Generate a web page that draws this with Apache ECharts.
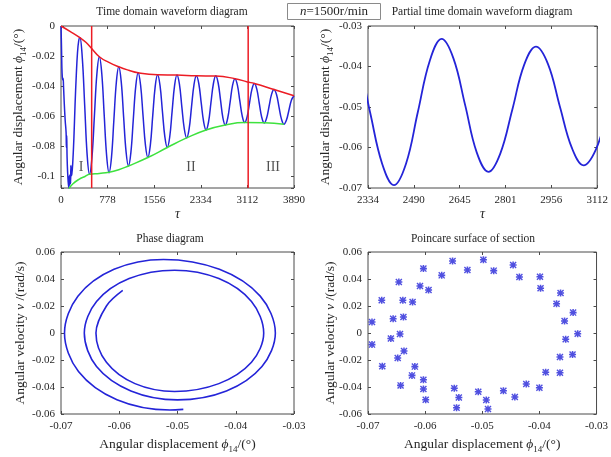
<!DOCTYPE html>
<html>
<head>
<meta charset="utf-8">
<script src="https://cdn.jsdelivr.net/npm/echarts@6/dist/echarts.min.js"></script>
<style>
  html, body { margin: 0; padding: 0; background: #fff; }
  #chart { width: 611px; height: 457px; }
</style>
</head>
<body>
<div id="chart"></div>
<script>
// ---------- time-domain waveform (phi_14 vs tau) ----------
const waveTau = [
  0, 5, 10, 15, 22, 30, 36, 42, 55, 70, 85, 90, 95, 98, 102, 110, 120, 130, 138, 145,
  152, 160, 165, 170, 180, 195, 215, 235, 255, 275, 295, 315,
  355, 396, 436, 476,
  517, 558, 599, 640,
  681, 721, 762, 802,
  843, 883, 924, 964,
  1005, 1045, 1086, 1126,
  1167, 1207, 1248, 1288,
  1329, 1369, 1410, 1450,
  1491, 1531, 1572, 1612,
  1653, 1693, 1734, 1774,
  1815, 1855, 1896, 1936,
  1977, 2017, 2058, 2098,
  2139, 2179, 2220, 2260,
  2301, 2341, 2382, 2422,
  2463, 2503, 2544, 2584,
  2624, 2664, 2703, 2743,
  2783, 2824, 2864, 2904,
  2945, 2985, 3026, 3066,
  3107, 3147, 3188, 3228,
  3269, 3310, 3351, 3392,
  3433, 3474, 3515, 3556,
  3598, 3639, 3681, 3722,
  3764, 3806, 3848, 3890
];
const wavePhi = [
  0, -0.008, -0.018, -0.028, -0.034, -0.036, -0.035, -0.040, -0.052, -0.063, -0.071, -0.081, -0.073, -0.079, -0.088, -0.097, -0.104, -0.108, -0.100, -0.106,
  -0.099, -0.105, -0.093, -0.100, -0.099, -0.092, -0.075, -0.052, -0.033, -0.018, -0.010, -0.0076,
  -0.0209, -0.0533, -0.0856, -0.0989,
  -0.0875, -0.0597, -0.0320, -0.0205,
  -0.0318, -0.0592, -0.0865, -0.0978,
  -0.0875, -0.0625, -0.0375, -0.0272,
  -0.0369, -0.0603, -0.0837, -0.0933,
  -0.0842, -0.0623, -0.0403, -0.0312,
  -0.0395, -0.0595, -0.0795, -0.0877,
  -0.0796, -0.0601, -0.0406, -0.0325,
  -0.0396, -0.0568, -0.0739, -0.0810,
  -0.0740, -0.0569, -0.0398, -0.0327,
  -0.0388, -0.0537, -0.0685, -0.0746,
  -0.0686, -0.0539, -0.0392, -0.0332,
  -0.0385, -0.0513, -0.0640, -0.0693,
  -0.0640, -0.0513, -0.0385, -0.0332,
  -0.0380, -0.0496, -0.0612, -0.0660,
  -0.0615, -0.0506, -0.0396, -0.0351,
  -0.0394, -0.0498, -0.0601, -0.0644,
  -0.0606, -0.0514, -0.0421, -0.0383,
  -0.0421, -0.0515, -0.0608, -0.0646,
  -0.0613, -0.0535, -0.0456, -0.0423,
  -0.0457, -0.0539, -0.0621, -0.0655,
  -0.0627, -0.0560, -0.0493, -0.0465
];

// upper (red) and lower (green) envelopes
const upperTau = [0, 150, 315, 420, 512, 640, 800, 964, 1130, 1288, 1612, 1936, 2260, 2584, 2904, 3112, 3228, 3556, 3890];
const upperPhi = [0, -0.0036, -0.0078, -0.0110, -0.0150, -0.0205, -0.0243, -0.0272, -0.0295, -0.0312, -0.0325, -0.0327, -0.0332, -0.0334, -0.0351, -0.0373, -0.0383, -0.0423, -0.0465];
const lowerTau = [130, 200, 300, 400, 476, 640, 802, 964, 1126, 1450, 1774, 2098, 2422, 2743, 3066, 3392, 3722];
const lowerPhi = [-0.1085, -0.1052, -0.1022, -0.1003, -0.0989, -0.0983, -0.0975, -0.0958, -0.0933, -0.0877, -0.0810, -0.0746, -0.0693, -0.0660, -0.0644, -0.0645, -0.0655];

// stage boundaries and stage names
const boundaryTau = [512, 3125];
const stageNames = ['I', 'II', 'III'];
const stageTau = [334, 2170, 3540];
const stagePhi = [-0.094, -0.094, -0.094];

// axis tick labels
const partialTauLabels = ['2334', '2490', '2645', '2801', '2956', '3112'];
const phaseVelLabels = ['-0.06', '-0.04', '-0.02', '0', '-0.02', '0.04', '0.06'];

// ---------- phase trajectory ----------
const phaseDisp = [
  -0.0490, -0.0513, -0.0604, -0.0670, -0.0694, -0.0671, -0.0609, -0.0524, -0.0428, -0.0358,
  -0.0332, -0.0355, -0.0416, -0.0500, -0.0580, -0.0639, -0.0660, -0.0639, -0.0583, -0.0505,
  -0.0429, -0.0373, -0.0352, -0.0373, -0.0429, -0.0505, -0.0573, -0.0622, -0.0640, -0.0622,
  -0.0594
];
const phaseVel = [
  -0.0566, -0.0570, -0.0494, -0.0285, 0.0000, 0.0273, 0.0472, 0.0545, 0.0472, 0.0273,
  0.0000, -0.0248, -0.0429, -0.0495, -0.0429, -0.0248, 0.0000, 0.0233, 0.0403, 0.0465,
  0.0403, 0.0233, 0.0000, -0.0217, -0.0375, -0.0433, -0.0375, -0.0217, 0.0000, 0.0200,
  0.0315
];

// ---------- Poincare section points ----------
const poincareDisp = [
  -0.0693, -0.0693, -0.0676, -0.0675, -0.0660, -0.0656, -0.0648, -0.0646, -0.0644, -0.0643,
  -0.0639, -0.0638, -0.0637, -0.0622, -0.0623, -0.0618, -0.0609, -0.0603, -0.0599, -0.0594,
  -0.0603, -0.0603, -0.0571, -0.0552, -0.0549, -0.0545, -0.0541, -0.0526, -0.0507, -0.0498,
  -0.0493, -0.0490, -0.0480, -0.0463, -0.0446, -0.0443, -0.0435, -0.0423, -0.0399, -0.0398,
  -0.0400, -0.0389, -0.0370, -0.0363, -0.0364, -0.0364, -0.0356, -0.0354, -0.0342, -0.0341,
  -0.0333
];
const poincareVel = [
  0.0081, -0.0086, 0.0242, -0.0247, -0.0040, 0.0106, -0.0185, 0.0378, -0.0007, -0.0388,
  0.0242, 0.0119, -0.0133, 0.0230, -0.0314, -0.0249, 0.0348, 0.0477, -0.0494, 0.0319,
  -0.0346, -0.0415, 0.0427, 0.0533, -0.0410, -0.0553, -0.0477, 0.0467, -0.0435, 0.0543,
  -0.0496, -0.0563, 0.0462, -0.0427, 0.0504, -0.0474, 0.0415, -0.0378, 0.0417, 0.0331,
  -0.0405, -0.0291, 0.0217, 0.0296, -0.0178, -0.0294, 0.0089, -0.0047, -0.0160, 0.0151,
  -0.0005
];

// ---------- styling ----------
const serif = '"Liberation Serif", "Times New Roman", serif';
const ink = '#262626';
const frame = '#4a4a4a';
const blue = '#2424d8';
const red = '#ec1c24';
const green = '#3ee23e';

const zip = (xs, ys) => xs.map((x, i) => [x, ys[i]]);
const fmt = v => { const r = Math.round(v * 100) / 100; return r === 0 ? '0' : String(r); };

const nameRich = {
  t: { fontFamily: serif, fontSize: 13.5, color: ink, lineHeight: 17, verticalAlign: 'top' },
  i: { fontFamily: serif, fontSize: 13.5, fontStyle: 'italic', color: ink, lineHeight: 17, verticalAlign: 'top' },
  s: { fontFamily: serif, fontSize: 9, color: ink, lineHeight: 8, verticalAlign: 'bottom' }
};
const dispName = '{t|Angular displacement }{i|ϕ}{s|14}{t|/(°)}';
const velName = '{t|Angular velocity }{i|ν}{t| /(rad/s)}';

const grids = [
  { left: 61, top: 26, width: 233, height: 162 },
  { left: 368, top: 26, width: 232, height: 162 },
  { left: 61, top: 252, width: 233, height: 162 },
  { left: 368, top: 252, width: 232, height: 162 }
].map(g => Object.assign(g, { show: true, borderColor: frame, borderWidth: 1, backgroundColor: 'transparent' }));

function axis(gridIndex, position, range, extra) {
  const main = position === 'bottom' || position === 'left';
  return Object.assign({
    type: 'value', gridIndex, position,
    min: range[0], max: range[1],
    axisLine: { show: false, onZero: false },
    axisTick: { show: true, inside: true, length: 3, lineStyle: { color: frame, width: 1 } },
    splitLine: { show: false },
    axisLabel: {
      show: main, color: ink, fontFamily: serif, fontSize: 11,
      margin: (position === 'left') ? 6 : 7, formatter: fmt,
      showMinLabel: true, showMaxLabel: true
    },
    nameMoveOverlap: false
  }, extra || {});
}

const xAxes = [];
const yAxes = [];
// grid 0: full waveform
xAxes.push(axis(0, 'bottom', [0, 3890], {
  interval: 778, axisLabel: { color: ink, fontFamily: serif, fontSize: 11, margin: 7, formatter: v => String(Math.round(v)) },
  name: 'τ', nameLocation: 'middle', nameGap: 19,
  nameTextStyle: { fontFamily: serif, fontSize: 14, fontStyle: 'italic', color: ink }
}));
xAxes.push(axis(0, 'top', [0, 3890], { interval: 778 }));
yAxes.push(axis(0, 'left', [-0.108, 0], {
  splitNumber: 5,
  axisLabel: {
    color: ink, fontFamily: serif, fontSize: 11, margin: 6,
    formatter: v => Math.abs(v / 0.02 - Math.round(v / 0.02)) > 1e-6 ? '' : fmt(v)
  },
  name: dispName, nameLocation: 'middle', nameGap: 33,
  nameTextStyle: { rich: nameRich }
}));
yAxes.push(axis(0, 'right', [-0.108, 0], { splitNumber: 5 }));

// grid 1: partial waveform
xAxes.push(axis(1, 'bottom', [2334, 3112], {
  interval: 155.6,
  axisLabel: { color: ink, fontFamily: serif, fontSize: 11, margin: 7,
    formatter: v => partialTauLabels[Math.round((v - 2334) / 155.6)] || '' },
  name: 'τ', nameLocation: 'middle', nameGap: 19,
  nameTextStyle: { fontFamily: serif, fontSize: 14, fontStyle: 'italic', color: ink }
}));
xAxes.push(axis(1, 'top', [2334, 3112], { interval: 155.6 }));
yAxes.push(axis(1, 'left', [-0.07, -0.03], {
  interval: 0.01,
  name: dispName, nameLocation: 'middle', nameGap: 33,
  nameTextStyle: { rich: nameRich }
}));
yAxes.push(axis(1, 'right', [-0.07, -0.03], { interval: 0.01 }));

// grid 2: phase diagram
xAxes.push(axis(2, 'bottom', [-0.07, -0.03], {
  interval: 0.01,
  name: dispName, nameLocation: 'middle', nameGap: 23,
  nameTextStyle: { rich: nameRich }
}));
xAxes.push(axis(2, 'top', [-0.07, -0.03], { interval: 0.01 }));
yAxes.push(axis(2, 'left', [-0.06, 0.06], {
  interval: 0.02,
  axisLabel: { color: ink, fontFamily: serif, fontSize: 11, margin: 6,
    formatter: v => phaseVelLabels[Math.round((v + 0.06) / 0.02)] || '' },
  name: velName, nameLocation: 'middle', nameGap: 31,
  nameTextStyle: { rich: nameRich }
}));
yAxes.push(axis(2, 'right', [-0.06, 0.06], { interval: 0.02 }));

// grid 3: Poincare section
xAxes.push(axis(3, 'bottom', [-0.07, -0.03], {
  interval: 0.01,
  name: dispName, nameLocation: 'middle', nameGap: 23,
  nameTextStyle: { rich: nameRich }
}));
xAxes.push(axis(3, 'top', [-0.07, -0.03], { interval: 0.01 }));
yAxes.push(axis(3, 'left', [-0.06, 0.06], {
  interval: 0.02,
  name: velName, nameLocation: 'middle', nameGap: 28,
  nameTextStyle: { rich: nameRich }
}));
yAxes.push(axis(3, 'right', [-0.06, 0.06], { interval: 0.02 }));

// asterisk marker: plus and cross bars of equal winding
const asterisk = 'path://M3.9 0L6.1 0L6.1 10L3.9 10Z M0 3.9L10 3.9L10 6.1L0 6.1Z M1.4 0L10 8.6L8.6 10L0 1.4Z M8.6 0L10 1.4L1.4 10L0 8.6Z';

const lineBase = { type: 'line', showSymbol: false, symbol: 'none', clip: true, animation: false, silent: true };

const series = [
  Object.assign({}, lineBase, {
    xAxisIndex: 0, yAxisIndex: 0, smooth: 0.4,
    data: zip(waveTau, wavePhi), lineStyle: { color: blue, width: 1.5 }, z: 2
  }),
  Object.assign({}, lineBase, {
    xAxisIndex: 0, yAxisIndex: 0, smooth: 0.5,
    data: zip(upperTau, upperPhi), lineStyle: { color: red, width: 1.5 }, z: 3
  }),
  Object.assign({}, lineBase, {
    xAxisIndex: 0, yAxisIndex: 0, smooth: 0.5,
    data: zip(lowerTau, lowerPhi), lineStyle: { color: green, width: 1.5 }, z: 3
  }),
  ...boundaryTau.map(t => Object.assign({}, lineBase, {
    xAxisIndex: 0, yAxisIndex: 0,
    data: [[t, 0], [t, -0.108]], lineStyle: { color: red, width: 1.5 }, z: 4
  })),
  {
    type: 'scatter', xAxisIndex: 0, yAxisIndex: 0, symbolSize: 0, silent: true, animation: false,
    data: stageNames.map((s, i) => [stageTau[i], stagePhi[i], s]),
    label: { show: true, position: 'inside', formatter: p => p.value[2],
      fontFamily: serif, fontSize: 14, color: ink }
  },
  Object.assign({}, lineBase, {
    xAxisIndex: 2, yAxisIndex: 2, smooth: 0.4,
    data: zip(waveTau, wavePhi), lineStyle: { color: blue, width: 1.8 }
  }),
  Object.assign({}, lineBase, {
    xAxisIndex: 4, yAxisIndex: 4, smooth: 0.34,
    data: zip(phaseDisp, phaseVel), lineStyle: { color: blue, width: 1.6 }
  }),
  {
    type: 'scatter', xAxisIndex: 6, yAxisIndex: 6, silent: true, animation: false,
    symbol: asterisk, symbolSize: 7,
    itemStyle: { color: blue },
    data: zip(poincareDisp, poincareVel)
  }
];

const titleText = (x, y, text) => ({
  type: 'text', x, y, silent: true,
  style: { text, align: 'center', verticalAlign: 'middle', fontFamily: serif, fontSize: 11.5, fill: ink }
});

const chart = echarts.init(document.getElementById('chart'), null, { renderer: 'canvas' });
chart.setOption({
  animation: false,
  backgroundColor: '#fff',
  grid: grids,
  xAxis: xAxes,
  yAxis: yAxes,
  series,
  graphic: [
    titleText(172, 12, 'Time domain waveform diagram'),
    titleText(482, 12, 'Partial time domain waveform diagram'),
    titleText(170, 239, 'Phase diagram'),
    titleText(473, 239, 'Poincare surface of section'),
    { type: 'rect', silent: true, z: 10,
      shape: { x: 287.5, y: 3.5, width: 93, height: 16 },
      style: { fill: '#fff', stroke: '#8a8a8a', lineWidth: 1 } },
    { type: 'text', silent: true, z: 11, x: 334, y: 12,
      style: { text: '{i|n}=1500r/min', align: 'center', verticalAlign: 'middle',
        fontFamily: serif, fontSize: 13, fill: ink,
        rich: { i: { fontFamily: serif, fontSize: 13, fontStyle: 'italic', fill: ink } } } }
  ]
});
</script>
</body>
</html>
